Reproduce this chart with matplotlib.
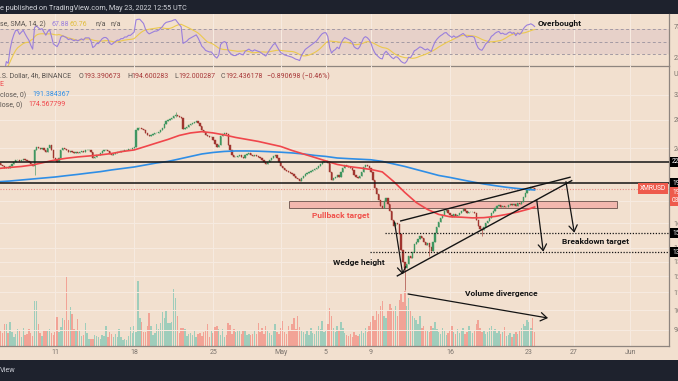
import numpy as np
import pandas as pd
import matplotlib
matplotlib.use("Agg")
import matplotlib.pyplot as plt
from matplotlib.patches import Rectangle
from matplotlib.ticker import NullLocator
import matplotlib.transforms as mtrans

plt.rcParams["font.family"] = ["Roboto", "DejaVu Sans"]

W, H = 678, 381

# XMR/USD 4h candles, first candle opens Apr 6 00:00 (x axis = days since Apr 1)
first_day = 5.0
first_open = 222.7
closes = [
    221.5, 219.1, 217.9, 215.6, 216.7, 215.6,  # Apr 6
    217.9, 220.3, 222.7, 225.1, 225.1, 223.9,
    225.1, 226.3, 225.1, 223.9, 222.7, 220.3,
    217.9, 237.6, 241.5, 240.2, 238.9, 240.2,
    237.6, 235.0, 240.2, 244.1, 237.6, 227.5,  # Apr 10
    225.1, 222.7, 227.5, 237.6, 240.2, 238.9,
    237.6, 235.0, 236.3, 235.0, 233.8, 235.0,
    233.8, 235.0, 236.3, 235.0, 237.6, 237.6,
    237.6, 235.0, 227.5, 228.8, 231.3, 231.3,
    233.8, 236.3, 237.6, 237.6, 236.3, 232.5,  # Apr 15
    231.3, 232.5, 233.8, 235.0, 235.0, 236.3,
    236.3, 237.6, 237.6, 238.9, 238.9, 240.2,
    241.5, 264.7, 267.6, 267.6, 266.2, 264.7,
    260.5, 257.7, 256.3, 257.7, 259.1, 260.5,
    260.5, 261.9, 264.7, 267.6, 273.5, 277.9,  # Apr 20
    279.4, 280.9, 282.5, 285.5, 287.1, 285.5,
    284.0, 282.5, 266.2, 267.6, 269.1, 272.0,
    273.5, 275.0, 276.5, 278.0, 275.0, 270.6,
    264.7, 261.9, 257.7, 256.3, 254.9, 254.9,
    250.8, 245.4, 241.5, 244.1, 256.3, 259.1,  # Apr 25
    260.5, 259.1, 244.1, 237.6, 231.3, 228.8,
    228.8, 230.0, 231.3, 228.8, 227.5, 231.3,
    232.5, 233.8, 231.3, 230.0, 231.3, 230.0,
    228.8, 227.5, 225.1, 222.7, 220.3, 222.7,
    225.1, 227.5, 230.0, 231.3, 227.5, 222.7,  # Apr 30
    217.9, 215.6, 213.3, 212.1, 211.0, 209.8,  # May 1
    208.7, 206.4, 204.2, 203.1, 200.9, 204.2,
    206.4, 208.7, 209.8, 211.0, 212.1, 213.3,
    214.4, 215.6, 217.9, 220.3, 222.7, 223.9,
    223.9, 221.5, 211.0, 202.0, 204.2, 205.3,  # May 5
    207.6, 205.3, 211.0, 215.6, 219.1, 217.9,
    216.7, 215.6, 213.3, 207.6, 205.3, 204.2,
    206.4, 211.0, 216.7, 219.1, 217.9, 215.6,
    211.0, 202.0, 193.5, 187.3, 181.3, 175.5,
    173.7, 180.4, 183.3, 177.5, 170.9, 162.7,  # May 10
    157.6, 160.1, 159.2, 150.9, 138.4, 129.8,
    125.6, 128.3, 134.0, 132.6, 136.9, 142.9,
    144.5, 146.9, 149.3, 147.7, 144.5, 142.2,
    143.7, 140.7, 137.6, 144.5, 151.6, 156.7,
    161.0, 164.5, 167.2, 170.9, 171.8, 169.0,  # May 15
    167.2, 165.4, 168.1, 166.3, 167.2, 169.0,
    170.9, 172.7, 170.9, 169.0, 169.9, 169.9,
    169.9, 169.0, 162.7, 157.6, 155.0, 154.1,
    156.7, 160.1, 161.9, 164.5, 169.0, 170.9,
    173.7, 175.5, 176.5, 174.6, 175.5, 174.6,  # May 20
    174.6, 176.5, 177.5, 176.5, 177.5, 175.5,
    178.4, 177.5, 179.4, 184.3, 188.3, 191.4,
    192.3, 194.0, 193.4, 192.44,               # May 23
]
volumes = [
    12, 16, 13, 22, 22, 13, 24, 14, 9, 12, 17, 15, 9, 18, 11, 12, 17, 13, 10, 45,
    45, 22, 13, 10, 16, 15, 16, 17, 13, 11, 14, 29, 14, 19, 28, 26, 70, 26, 39, 32,
    17, 16, 27, 16, 10, 11, 23, 13, 7, 7, 7, 11, 10, 9, 7, 11, 10, 20, 9, 14,
    12, 9, 12, 9, 17, 9, 6, 7, 6, 10, 19, 13, 20, 14, 65, 28, 24, 14, 14, 20,
    33, 20, 11, 13, 22, 17, 23, 34, 28, 35, 23, 23, 24, 57, 48, 30, 13, 18, 18, 17,
    10, 12, 13, 11, 15, 9, 12, 13, 10, 14, 16, 22, 9, 15, 13, 19, 20, 17, 11, 17,
    9, 11, 23, 21, 12, 17, 14, 16, 16, 12, 15, 16, 11, 12, 11, 12, 16, 12, 23,
    14, 18, 12, 20, 15,
    13, 11, 16, 22, 14, 12,
    18, 25, 14, 12, 20, 16,
    22, 28, 17, 30, 19, 15,
    14, 12, 16, 11, 18, 13,
    12, 15, 20, 17, 25, 14,
    16, 22, 38, 30, 18, 14,
    20, 15, 24, 18, 13, 11,
    10, 12, 9, 14, 11, 10,
    12, 16, 13, 18, 14, 20,
    24, 30, 26, 35, 32, 40,
    45, 30, 28, 36, 42, 38,
    35, 40, 30, 46, 52, 44,
    55, 40, 48, 35, 30, 28,
    26, 22, 30, 18, 20, 16,
    15, 14, 20, 18, 24, 17,
    14, 12, 18, 15, 11, 13,
    16, 20, 14, 12, 17, 13,
    15, 18, 12, 14, 20, 16,
    13, 15, 22, 26, 18, 14,
    16, 12, 14, 18, 20, 15,
    17, 13, 15, 12, 14, 19,
    10, 11, 13, 9, 12, 14,
    12, 15, 18, 22, 20, 26,
    24, 18, 28, 14,
]
# the few long wicks: (candle index, high, low)
wicks = [(19, 238.5, 207.6), (94, 291.7, 284.0), (216, 129.8, 111.5),
         (229, 143.7, 133.6), (257, 155.0, 149.3)]

# moving averages read at each day start Apr 6 .. May 23, plus last candle
ema_days = list(range(5, 53)) + [52.5]
ema200 = [200.1, 200.9, 202.0, 203.1, 204.2, 205.3, 206.8, 208.2, 209.8, 211.3,
          213.3, 215.0, 216.7, 219.1, 221.5, 223.3, 226.3, 229.4, 232.5, 234.4,
          235.7, 236.3, 236.3, 236.0, 235.4, 234.7, 233.8, 232.5, 230.7, 229.4,
          227.5, 226.7, 226.0, 225.3, 223.3, 220.3, 217.3, 213.8, 210.4, 207.0,
          204.8, 202.3, 199.9, 197.7, 195.9, 194.2, 192.9, 191.8, 191.38]
ema50 = [215.0, 216.2, 217.3, 219.1, 222.1, 225.1, 227.2, 228.8, 230.0, 231.3,
         233.1, 235.7, 237.6, 242.1, 246.8, 251.5, 257.0, 260.5, 262.3, 260.5,
         257.7, 254.2, 251.5, 248.8, 245.4, 242.1, 236.9, 232.5, 228.2, 223.9,
         219.7, 217.3, 215.6, 213.8, 211.0, 200.4, 188.8, 178.9, 172.3, 167.7,
         165.6, 165.2, 164.6, 164.8, 165.9, 167.7, 169.9, 172.7, 174.57]

date_ticks = [10, 17, 24, 30, 34, 38, 45, 52, 56, 61]
date_labels = ["11", "18", "25", "May", "5", "9", "16", "23", "27", "Jun"]
price_ticks = [90, 100, 110, 120, 130, 140, 160, 180, 240, 280, 320]

DARK = "#1e222d"
PEACH = "#f2e0cf"
GRID = "#f7ebe1"
SEP = "#8e857f"
UP, DOWN = "#3f9660", "#a0352f"
VUP, VDOWN = "#9fcdbb", "#f2a396"
TXT = "#5b5550"
INK = "#141414"


def box(x0, y0, x1, y1):
    return [x0 / W, 1 - y1 / H, (x1 - x0) / W, (y1 - y0) / H]


def ftext(x, y, s, **kw):
    kw.setdefault("fontsize", 5.0)
    kw.setdefault("color", TXT)
    fig.text(x / W, 1 - y / H, s, va="center", ha="left", **kw)


fig = plt.figure(figsize=(W / 100, H / 100), dpi=100, facecolor=DARK)
fig.patches.append(Rectangle((0, 1 - 360 / H), 1, 346 / H, transform=fig.transFigure,
                             facecolor=PEACH, edgecolor="none", zorder=-5))

xlim = (5.106, 64.415)
rax = fig.add_axes(box(0, 14, 669, 66))
vax = fig.add_axes(box(0, 66, 669, 346))
ax = fig.add_axes(box(0, 66, 669, 346))
for a in (rax, vax, ax):
    a.set_facecolor("none")
    a.set_xlim(*xlim)
    for s in ("top", "left"):
        a.spines[s].set_visible(False)
    for s in ("right", "bottom"):
        a.spines[s].set_color(SEP)
        a.spines[s].set_linewidth(0.9)
for s in vax.spines.values():
    s.set_visible(False)
vax.set_xticks([])
vax.set_yticks([])

# ---- candles
n = len(closes)
days = first_day + np.arange(n) / 6
c = np.array(closes)
o = np.r_[first_open, c[:-1]]
hi = np.maximum(o, c)
lo = np.minimum(o, c)
for i, h, l in wicks:
    hi[i], lo[i] = h, l
up = c >= o
col = np.where(up, UP, DOWN)

vax.bar(days, volumes[:n], width=0.13, color=np.where(up, VUP, VDOWN), linewidth=0)
vax.set_ylim(0, 280)

ax.set_yscale("log")
ax.set_ylim(82.36, 374.0)
ax.vlines(days, lo, hi, colors=col, lw=0.55, alpha=0.8, zorder=3)
ax.bar(days, c - o, bottom=o, width=0.115, color=col, edgecolor=col, linewidth=0.3, zorder=4)
ax.plot(ema_days, ema200, color="#2f8ee6", lw=1.2, zorder=5)
ax.plot(ema_days, ema50, color="#f0464b", lw=1.2, zorder=5)

ax.yaxis.tick_right()
ax.yaxis.set_minor_locator(NullLocator())
ax.set_yticks(price_ticks)
ax.set_yticklabels([f"{v:.6f}" for v in price_ticks])
ax.set_xticks(date_ticks)
ax.set_xticklabels(date_labels)
ax.tick_params(length=0, labelsize=5, labelcolor="#7b736d", pad=3.5)
ax.tick_params(axis="x", pad=2.5)
ax.grid(True, color=GRID, lw=0.7)
ax.set_axisbelow(True)

# ---- drawings
ax.axhline(223.0, color=INK, lw=1.1, zorder=6)
ax.axhline(198.5, color=INK, lw=1.1, zorder=6)
ax.axhline(closes[-1], color="#e98d86", lw=0.8, ls=(0, (1, 1.5)), zorder=2)
ax.plot([39.24, xlim[1]], [151.5, 151.5], color=INK, lw=0.9, ls=(0, (1, 1.3)), zorder=6)
ax.plot([37.91, xlim[1]], [136.7, 136.7], color=INK, lw=0.9, ls=(0, (1, 1.3)), zorder=6)
ax.add_patch(Rectangle((30.73, 173.9), 59.80 - 30.73, 180.1 - 173.9, facecolor="#f2b3ab",
                       edgecolor="#6e5650", lw=0.7, alpha=0.9, zorder=2))
ax.plot([40.63, 55.64], [161.9, 205.0], color=INK, lw=1.0, zorder=7)
ax.plot([40.33, 55.79], [120.3, 201.3], color=INK, lw=1.0, zorder=7)
arrow = dict(arrowstyle="->,head_length=0.45,head_width=0.3", lw=0.9, color=INK,
             shrinkA=0, shrinkB=0)
for (x0, y0), (x1, y1) in [((40.08, 161.0), (40.81, 121.2)),
                           ((52.69, 181.3), (53.27, 137.1)),
                           ((55.28, 200.2), (56.02, 151.9)),
                           ((41.28, 109.1), (53.69, 95.8))]:
    ax.annotate("", xy=(x1, y1), xytext=(x0, y0), arrowprops=arrow, zorder=7)

bold = dict(fontsize=6, fontweight="bold", va="center", ha="left", zorder=8)
ax.text(32.77, 166.6, "Pullback target", color="#f0504a", **bold)
ax.text(34.62, 129.2, "Wedge height", color=INK, **bold)
ax.text(46.33, 109.5, "Volume divergence", color=INK, **bold)
ax.text(54.93, 144.8, "Breakdown target", color=INK, **bold)

# right axis tags
tr = mtrans.blended_transform_factory(ax.transAxes, ax.transData)
for p, s in [(223.0, "223.000000"), (198.5, "198.500000"),
             (151.5, "151.500000"), (136.7, "136.700000")]:
    ax.text(1.0045, p, s, transform=tr, fontsize=4.8, color="white", va="center", ha="left",
            clip_on=False, zorder=9,
            bbox=dict(boxstyle="square,pad=0.25", fc="black", ec="none"))
ax.text(1.0045, closes[-1], "192.436178\n03:04:52", transform=tr, fontsize=4.8, color="white",
        va="top", ha="left", linespacing=1.2, clip_on=False, zorder=9,
        bbox=dict(boxstyle="square,pad=0.3", fc="#ee5a4c", ec="none"))
ax.text(0.9955, closes[-1], "XMRUSD", transform=tr, fontsize=4.8, color="white",
        va="center", ha="right", zorder=9,
        bbox=dict(boxstyle="square,pad=0.3", fc="#ee5a4c", ec="none"))

# ---- RSI panel
d = pd.Series(c).diff()
gain = d.clip(lower=0).ewm(alpha=1 / 14, adjust=True, min_periods=3).mean()
loss = (-d.clip(upper=0)).ewm(alpha=1 / 14, adjust=True, min_periods=3).mean()
rsi = 100 - 100 / (1 + gain / loss)
rsi_ma = rsi.rolling(14, min_periods=1).mean()

rax.set_ylim(10.6, 94.7)
rax.axhspan(30, 70, color="#e7d1c9", lw=0, zorder=0)
for lvl in (70, 50, 30):
    rax.axhline(lvl, color="#a39aa3", lw=0.7, ls=(0, (3, 2.5)), zorder=1)
rax.plot(days, rsi, color="#9a7fdc", lw=0.8, zorder=3)
rax.plot(days, rsi_ma, color="#ecc94d", lw=0.8, zorder=2)
rax.text(52.8, 79.7, "Overbought", color=INK, **bold)
rax.yaxis.tick_right()
rax.set_yticks([25, 75])
rax.set_yticklabels(["25.00", "75.00"])
rax.set_xticks(date_ticks)
rax.set_xticklabels([])
rax.tick_params(length=0, labelsize=5, labelcolor="#7b736d", pad=3.5)
rax.grid(True, axis="x", color=GRID, lw=0.7)
rax.set_axisbelow(True)

# ---- header / legends
ftext(0, 8.5, "e published on TradingView.com, May 23, 2022 12:55 UTC", color="#d4d6dc",
      fontsize=5.2)
ftext(0, 370.5, "View", color="#c9ccd4", fontsize=5.2)
ftext(0, 24, "se, SMA, 14, 2)")
ftext(52, 24, "67.88", color="#9a7fdc")
ftext(70, 24, "60.76", color="#e0bd3c")
ftext(96, 24, "n/a")
ftext(110, 24, "n/a")
ftext(674, 74, "USD", color="#7b736d")

ohlc_red = "#a8393a"
ftext(0, 76, ".S. Dollar, 4h, BINANCE")
for x, k, v in [(79, "O", "193.390673"), (127, "H", "194.600283"),
                (174, "L", "192.000287"), (221, "C", "192.436178")]:
    ftext(x, 76, k)
    ftext(x + 4.6, 76, v, color=ohlc_red)
ftext(267, 76, "\u22120.890698 (\u22120.46%)", color=ohlc_red)
ftext(-1, 84, "E", color="#f0464b")
ftext(0, 95, "close, 0)")
ftext(32, 95, "191.384367", color="#2f8ee6")
ftext(0, 105, "lose, 0)")
ftext(28, 105, "174.567799", color="#f0464b")

fig.savefig("out.png", dpi=100, facecolor=DARK)
